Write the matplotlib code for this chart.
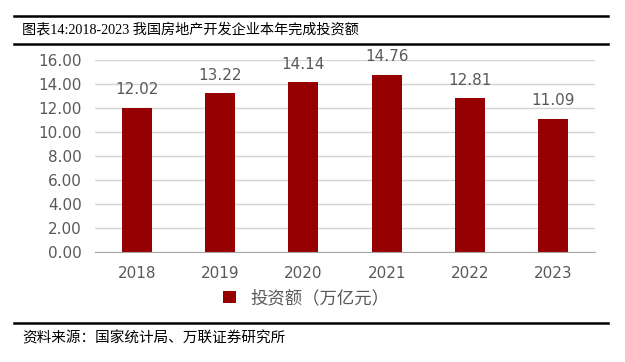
import matplotlib.pyplot as plt
from matplotlib.lines import Line2D
import numpy as np

### Data
years = ['2018', '2019', '2020', '2021', '2022', '2023']
invest = [12.02, 13.22, 14.14, 14.76, 12.81, 11.09]   # 万亿元
yticks = np.arange(0, 17, 2)

title = '图表14:2018-2023 我国房地产开发企业本年完成投资额'
source = '资料来源：国家统计局、万联证券研究所'
legend_label = '投资额（万亿元）'

### Style
bar_col = '#960000'
txt_col = '#595959'
cjk = ['Noto Sans CJK SC', 'DejaVu Sans']
serif_cjk = ['Liberation Serif', 'Noto Sans CJK SC']
num_font = 'DejaVu Sans'
plt.rcParams['font.family'] = cjk

W, H = 625, 362
fig = plt.figure(figsize=(W/100, H/100), dpi=100)
ax = fig.add_axes([95/W, 1-251.7/H, 500/W, (251.7-60)/H])

x = np.arange(len(years))
bars = ax.bar(x, invest, width=0.36, color=bar_col, zorder=3, label=legend_label)
for xi, v in zip(x, invest):
    ax.text(xi, v + 1.5, f'{v:.2f}', ha='center', va='center', fontsize=11,
            color=txt_col, family=num_font)

ax.set_xlim(-0.5, len(years)-0.5)
ax.set_ylim(0, 16)
ax.set_yticks(yticks)
ax.set_yticklabels([f'{t:.2f}' for t in yticks], family=num_font)
ax.set_xticks(x)
ax.set_xticklabels(years, family=num_font)
ax.tick_params(length=0, labelsize=11, labelcolor=txt_col)
ax.tick_params(axis='y', pad=9.5)
ax.tick_params(axis='x', pad=10)
ax.yaxis.grid(True, color='#d4d4d4', lw=1, zorder=0)
for s in ['top', 'right', 'left']:
    ax.spines[s].set_visible(False)
ax.spines['bottom'].set_color('#a6a6a6')
ax.spines['bottom'].set_zorder(4)

leg = fig.legend(handles=[bars], loc='center', bbox_to_anchor=(306/W, 1-298/H),
                 frameon=False, fontsize=12.5, handlelength=0.75, handleheight=0.75,
                 handletextpad=0.8, labelcolor=txt_col)

### Header / footer rules and text
for yy in [15.7, 43.5, 322.7]:
    fig.add_artist(Line2D([14/W, 608/W], [1-yy/H, 1-yy/H], color='black', lw=1.8))
fig.text(22/W, 1-29.5/H, title, fontsize=10.2, family=serif_cjk, va='center', ha='left')
fig.text(22/W, 1-338/H, source, fontsize=10.5, style='italic', va='center', ha='left')

fig.savefig('out.png', dpi=100)
